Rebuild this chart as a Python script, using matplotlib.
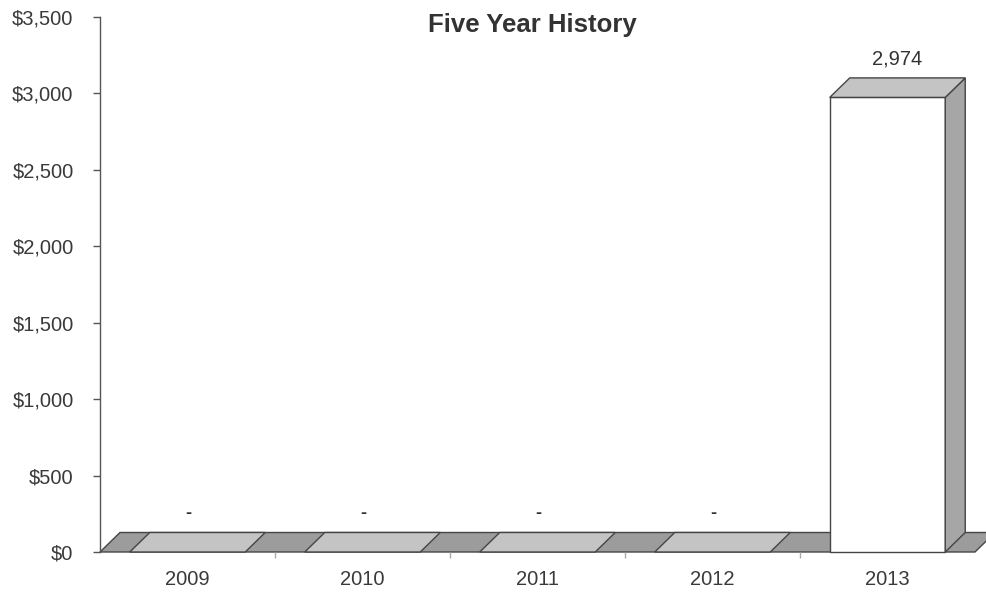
import matplotlib
matplotlib.use('Agg')
import matplotlib.pyplot as plt
from matplotlib.patches import Polygon

# ---- data ----
years = ['2009', '2010', '2011', '2012', '2013']
values = [0, 0, 0, 0, 2974]
value_labels = ['-', '-', '-', '-', '2,974']
yticks = [0, 500, 1000, 1500, 2000, 2500, 3000, 3500]
ytick_labels = ['$0', '$500', '$1,000', '$1,500', '$2,000', '$2,500', '$3,000', '$3,500']
title = 'Five Year History'

plt.rcParams['font.family'] = ['Liberation Sans', 'DejaVu Sans']

W, H = 986, 594
fig = plt.figure(figsize=(W / 100, H / 100), dpi=100)
ax_left, ax_bottom, ax_w, ax_h = 100, 42, 875, 535
ax = fig.add_axes([ax_left / W, ax_bottom / H, ax_w / W, ax_h / H])
ax.set_xlim(-0.5, len(years) - 0.5)
ax.set_ylim(0, 3500)

px_x = len(years) / ax_w
px_y = 3500 / ax_h
dx = 20 * px_x
dy = 19.5 * px_y
bw = 0.66

edge = '#454545'
lw = 1.0

# floor
floor = Polygon([(-0.5, 0), (len(years) - 0.5, 0), (len(years) - 0.5 + dx, dy), (-0.5 + dx, dy)],
                closed=True, facecolor='#9c9c9c', edgecolor=edge, lw=lw, clip_on=False, zorder=1)
ax.add_patch(floor)

for i, v in enumerate(values):
    x0, x1 = i - bw / 2, i + bw / 2
    z = 2 + i
    if v > 0:
        front = Polygon([(x0, 0), (x1, 0), (x1, v), (x0, v)], closed=True,
                        facecolor='white', edgecolor=edge, lw=lw, clip_on=False, zorder=z)
        side = Polygon([(x1, 0), (x1 + dx, dy), (x1 + dx, v + dy), (x1, v)], closed=True,
                       facecolor='#a6a6a6', edgecolor=edge, lw=lw, clip_on=False, zorder=z)
        ax.add_patch(front)
        ax.add_patch(side)
    top = Polygon([(x0, v), (x0 + dx, v + dy), (x1 + dx, v + dy), (x1, v)], closed=True,
                  facecolor='#c4c4c4', edgecolor=edge, lw=lw, clip_on=False, zorder=z + 0.1)
    ax.add_patch(top)
    lx = i + dx / 2 if v > 0 else i + 1 * px_x
    ax.annotate(value_labels[i], xy=(lx, v + dy), xytext=(0, 19 * 0.72),
                textcoords='offset points', ha='center', va='center',
                fontsize=14.5 if v > 0 else 13, fontweight='normal' if v > 0 else 'bold',
                color='#333333', zorder=20)

# axes styling
for s in ['top', 'right', 'bottom']:
    ax.spines[s].set_visible(False)
ax.spines['left'].set_color('#555555')
ax.spines['left'].set_linewidth(1.0)

ax.set_yticks(yticks)
ax.set_yticklabels(ytick_labels)
ax.tick_params(axis='y', length=5, width=1, color='#555555', pad=14,
               labelsize=14.5, labelcolor='#3a3a3a')

ax.set_xticks(range(len(years)))
ax.set_xticklabels(years)
ax.set_xticks([i + 0.5 for i in range(len(years) - 1)], minor=True)
ax.tick_params(axis='x', which='major', length=0, pad=13, labelsize=14.5, labelcolor='#3a3a3a')
ax.tick_params(axis='x', which='minor', length=4, width=1, color='#aaaaaa')
ax.set_facecolor('white')

fig.text(532 / W, 1 - 25 / H, title, ha='center', va='center', fontsize=18.5,
         fontweight='bold', color='#333333')

fig.savefig('out.png', dpi=100)
